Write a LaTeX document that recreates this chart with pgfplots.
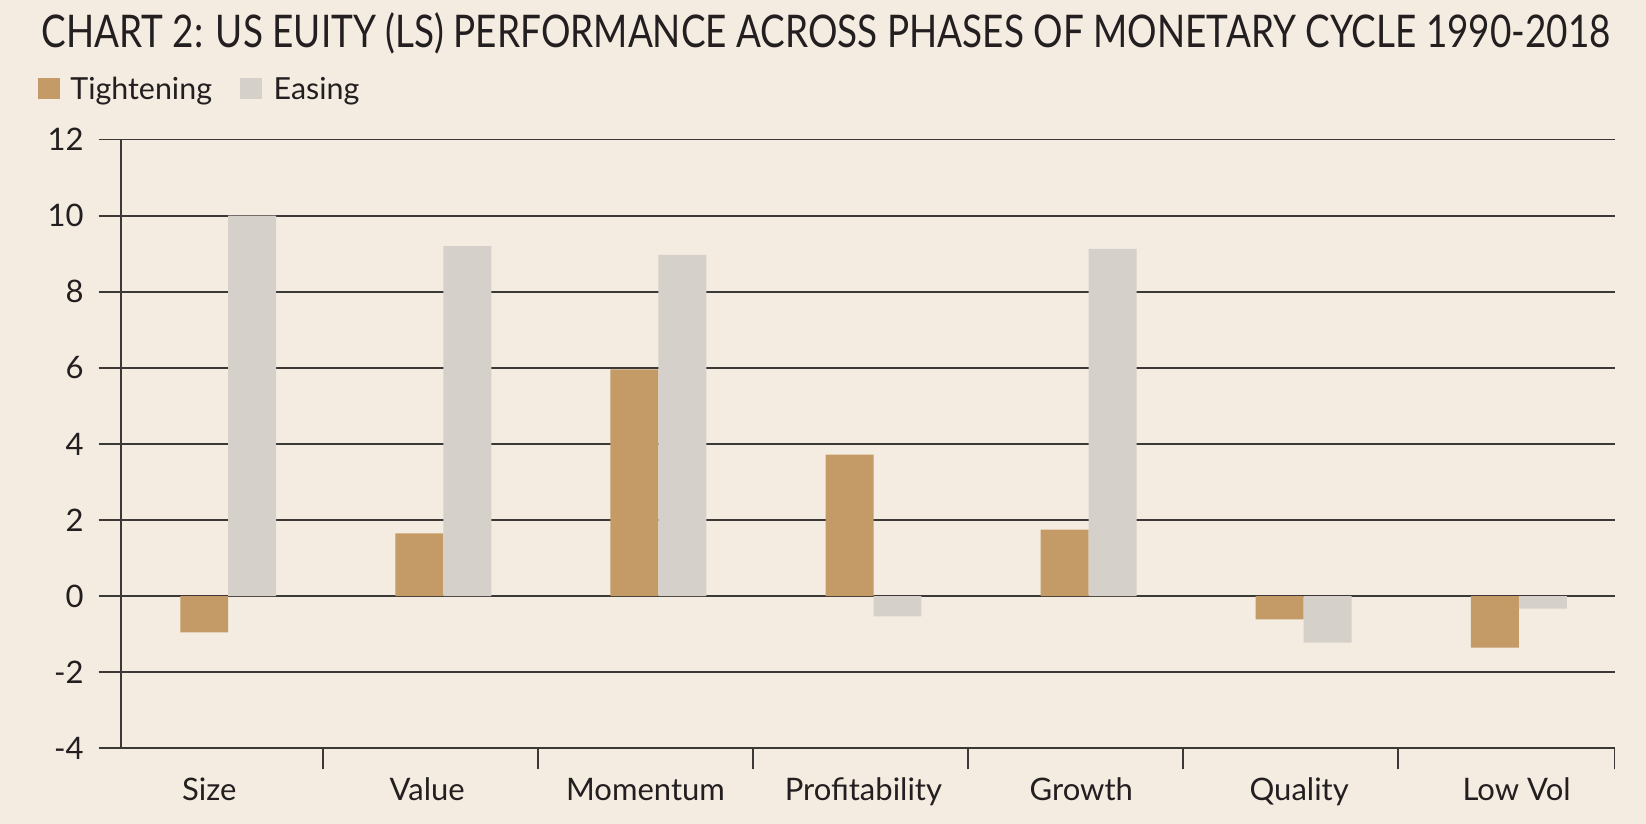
\documentclass[border=0pt]{standalone}
\usepackage{fontspec}
\setmainfont{Lato}
\usepackage{pgfplots}
\pgfplotsset{compat=1.18}
\usepackage{pgfplotstable}

\definecolor{bg}{HTML}{F4ECE1}
\definecolor{tight}{HTML}{C49A66}
\definecolor{ease}{HTML}{D5D0CA}
\definecolor{gridc}{HTML}{3C3835}
\definecolor{txt}{HTML}{231F20}

\newlength\px
\setlength\px{0.5pt}

% category index, tightening, easing
\pgfplotstableread{
x   tight  ease
0   -0.95  10.00
1    1.65   9.20
2    5.96   8.97
3    3.72  -0.53
4    1.75   9.13
5   -0.61  -1.22
6   -1.35  -0.33
}\phases

% title squeezed to the reference's width
\newcommand\charttitle{CHART 2: US EUITY (LS) PERFORMANCE ACROSS PHASES OF MONETARY CYCLE 1990-2018}
\newlength\tw
\settowidth\tw{\fontsize{22.5}{26}\selectfont\charttitle}

\begin{document}%
\pgfmathsetmacro\tscale{784.5/\tw}%
\begin{tikzpicture}[x=1\px,y=1\px]
\fill[bg] (0,0) rectangle (1646,824);

\begin{axis}[
    at={(120.7\px,75.6\px)}, anchor=south west,
    scale only axis,
    width=1493.8\px, height=608.8\px,
    xmin=-0.5, xmax=6.445,
    ymin=-4, ymax=12,
    axis x line*=bottom, axis y line*=left,
    axis line style={gridc, line width=0.9pt, -},
    ybar=0pt, bar width=0.223,
    ytick={-4,-2,...,12},
    yticklabels={-4,-2,0,2,4,6,8,10,12},
    ymajorgrids,
    grid style={gridc, line width=0.9pt},
    ytick style={gridc, line width=0.9pt},
    tick align=outside,
    major tick length=22\px,
    % category names sit on a slightly wider pitch than the bars
    xtick={-0.088,0.925,1.94,2.953,3.966,4.979,5.99},
    xticklabels={Size,Value,Momentum,Profitability,Growth,Quality,Low Vol},
    xtick style={draw=none},
    extra x ticks={0.44,1.44,2.44,3.44,4.44,5.44,6.445},
    extra x tick labels={},
    extra x tick style={grid=none, xtick style={gridc, line width=0.9pt, draw=gridc}, major tick length=21\px},
    tick label style={font=\fontsize{15.5}{18}\selectfont, text=txt},
    yticklabel style={anchor=east, xshift=-8\px},
    xticklabel style={anchor=base, yshift=-30\px},
]
\addplot[draw=none, fill=tight] table[x=x, y=tight] {\phases};
\addplot[draw=none, fill=ease] table[x=x, y=ease] {\phases};
\end{axis}

% title
\node[anchor=base west, inner sep=0, text=txt, font=\fontsize{22.5}{26}\selectfont]
    at (41,776.6) {\scalebox{\tscale}[1]{\charttitle}};

% legend
\fill[tight] (37.7,724.7) rectangle (60,745.7);
\node[anchor=base west, inner sep=0, text=txt, font=\fontsize{15.2}{18}\selectfont] at (70,724) {Tightening};
\fill[ease] (240,724.7) rectangle (262.3,745.7);
\node[anchor=base west, inner sep=0, text=txt, font=\fontsize{15.2}{18}\selectfont] at (273.3,724) {Easing};

\pgfresetboundingbox
\path[use as bounding box] (0,0) rectangle (1646,824);
\end{tikzpicture}%
\end{document}
